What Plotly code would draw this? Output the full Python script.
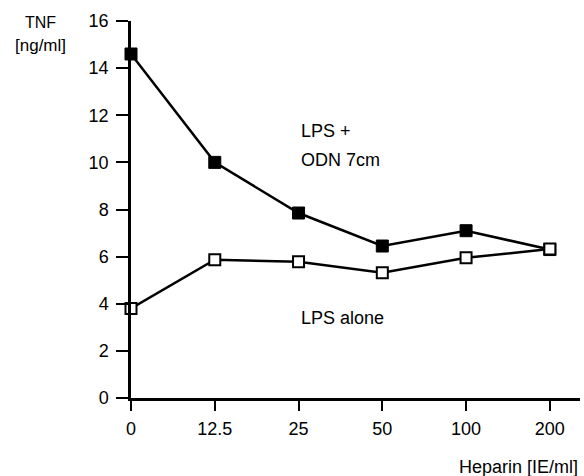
import plotly.graph_objects as go

categories = ["0", "12.5", "25", "50", "100", "200"]
lps_odn = [14.6, 10.0, 7.85, 6.45, 7.1, 6.3]
lps_alone = [3.8, 5.87, 5.78, 5.32, 5.95, 6.32]
y_ticks = [0, 2, 4, 6, 8, 10, 12, 14, 16]

xpos = list(range(len(categories)))
FONT = "Liberation Sans, Arial, Helvetica, sans-serif"

fig = go.Figure()
fig.add_trace(go.Scatter(
    x=xpos, y=lps_odn, mode="lines+markers", cliponaxis=False,
    line=dict(color="black", width=2.5),
    marker=dict(symbol="square", size=12, color="black", line=dict(color="black", width=1)),
    showlegend=False))
fig.add_trace(go.Scatter(
    x=xpos, y=lps_alone, mode="lines+markers", cliponaxis=False,
    line=dict(color="black", width=2.5),
    marker=dict(symbol="square", size=11, color="white", line=dict(color="black", width=2)),
    showlegend=False))

fig.update_layout(
    width=584, height=476,
    margin=dict(l=131, r=4, t=21, b=78),
    paper_bgcolor="white", plot_bgcolor="white",
    font=dict(family=FONT, size=18, color="black"),
    xaxis=dict(range=[0, 5.36], tickvals=xpos, ticktext=categories,
               showline=True, linecolor="black", linewidth=2.5,
               ticks="outside", ticklen=10, tickwidth=2, tickcolor="black",
               showgrid=False, zeroline=False, ticklabelstandoff=3),
    yaxis=dict(range=[0, 16], tickvals=y_ticks,
               showline=True, linecolor="black", linewidth=2.5,
               ticks="outside", ticklen=12, tickwidth=2, tickcolor="black",
               showgrid=False, zeroline=False, ticklabelstandoff=4),
    annotations=[
        dict(text="TNF", xref="paper", yref="paper", x=-0.201, y=0.997, xanchor="center",
             yanchor="middle", showarrow=False, font=dict(size=16)),
        dict(text="[ng/ml]", xref="paper", yref="paper", x=-0.201, y=0.934, xanchor="center",
             yanchor="middle", showarrow=False, font=dict(size=17)),
        dict(text="LPS +", xref="x", yref="y", x=2.0, y=11.33, xanchor="left",
             yanchor="middle", showarrow=False),
        dict(text="ODN 7cm", xref="x", yref="y", x=2.0, y=10.1, xanchor="left",
             yanchor="middle", showarrow=False),
        dict(text="LPS alone", xref="x", yref="y", x=2.01, y=3.4, xanchor="left",
             yanchor="middle", showarrow=False),
        dict(text="Heparin [IE/ml]", xref="paper", yref="paper", x=1.0, y=-0.183,
             xanchor="right", yanchor="middle", showarrow=False),
    ],
)

fig.write_html("out.html", config={"displayModeBar": False},
               post_script="document.body.style.margin='0';")
